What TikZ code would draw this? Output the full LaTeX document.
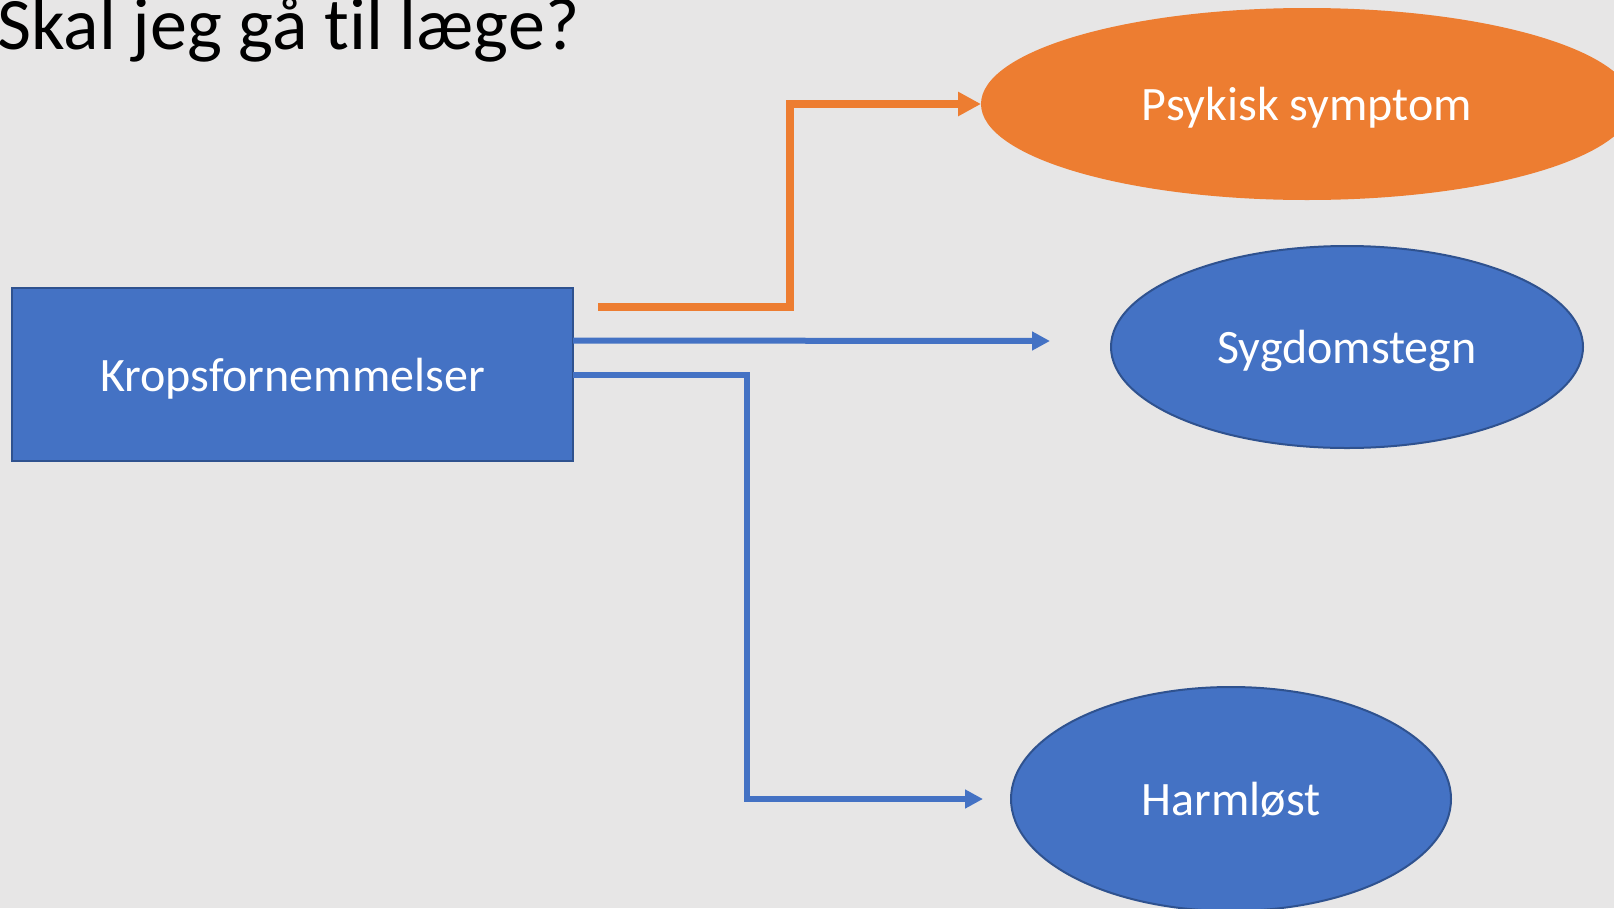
\documentclass[tikz,border=0pt]{standalone}
\usepackage{fontspec}
\setmainfont{Carlito}[Ligatures=NoCommon]
\usetikzlibrary{shapes.geometric}
\usetikzlibrary{arrows.meta}
\usetikzlibrary{calc}

\definecolor{slidebg}{HTML}{E7E6E6}
\definecolor{accblue}{HTML}{4472C4}
\definecolor{accblueline}{HTML}{2F528F}
\definecolor{accorange}{HTML}{ED7D31}

\begin{document}
\begin{tikzpicture}[x=1pt,y=-1pt]

\tikzset{box/.style={draw=accblueline, line width=2pt, fill=accblue, text=white, inner sep=0pt, outer sep=0pt, text depth=0pt, font=\fontsize{48}{52}\selectfont},
	oval/.style={ellipse, draw=accblueline, line width=2pt, fill=accblue, text=white, inner sep=0pt, outer sep=0pt, text depth=0pt, font=\fontsize{48}{52}\selectfont},
	blueline/.style={draw=accblue, line width=6pt, -{Triangle[length=18pt,width=18pt]}},
	orangeline/.style={draw=accorange, line width=7.5pt, -{Triangle[length=23pt,width=23pt]}}}

\fill[slidebg] (0,0) rectangle (1614,908);
\clip (0,0) rectangle (1614,908);

\node[anchor=base west, inner sep=0pt, font=\fontsize{74}{80}\selectfont] (titel) at (-3,49) {Skal jeg gå til læge?};

\node[box, minimum width=561pt, minimum height=173pt] (krop) at (292.5,374.5) {Kropsfornemmelser};

\node[oval, draw=none, fill=accorange, minimum width=652pt, minimum height=192pt] (psykisk) at (1307,104) {Psykisk symptom};
\node[oval, minimum width=472pt, minimum height=202pt] (sygdom) at (1347,347) {Sygdomstegn};
\node[oval, minimum width=440pt, minimum height=224pt] (harm) at (1231,799) {Harmløst};

\coordinate (psykstart) at (598,307);
\coordinate (sygend) at (1050,341);
\coordinate (harmend) at (983,799);

\draw[orangeline] (psykstart) -| ([xshift=-191pt]psykisk.west) -- (psykisk.west);
\draw[blueline] ([yshift=34pt]krop.east) -- (sygend);
\draw[blueline] (krop.east) -| ([xshift=-236pt]harmend) -- (harmend);
\end{tikzpicture}
\end{document}
